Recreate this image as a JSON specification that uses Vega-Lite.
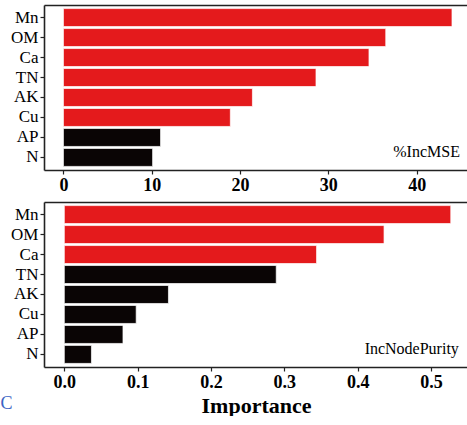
{
  "$schema": "https://vega.github.io/schema/vega-lite/v6.json",
  "padding": {"left": 0, "top": 5, "right": 0, "bottom": 0},
  "background": "white",
  "datasets": {
    "mse": [
      {"variable": "Mn", "importance": 44.0, "group": "high"},
      {"variable": "OM", "importance": 36.5, "group": "high"},
      {"variable": "Ca", "importance": 34.6, "group": "high"},
      {"variable": "TN", "importance": 28.6, "group": "high"},
      {"variable": "AK", "importance": 21.4, "group": "high"},
      {"variable": "Cu", "importance": 18.9, "group": "high"},
      {"variable": "AP", "importance": 11.0, "group": "low"},
      {"variable": "N", "importance": 10.1, "group": "low"}
    ],
    "purity": [
      {"variable": "Mn", "importance": 0.527, "group": "high"},
      {"variable": "OM", "importance": 0.436, "group": "high"},
      {"variable": "Ca", "importance": 0.344, "group": "high"},
      {"variable": "TN", "importance": 0.289, "group": "low"},
      {"variable": "AK", "importance": 0.142, "group": "low"},
      {"variable": "Cu", "importance": 0.098, "group": "low"},
      {"variable": "AP", "importance": 0.080, "group": "low"},
      {"variable": "N", "importance": 0.037, "group": "low"}
    ]
  },
  "title": {
    "text": "C",
    "orient": "bottom",
    "anchor": "start",
    "font": "Liberation Serif",
    "fontSize": 18,
    "fontWeight": "normal",
    "color": "#3b63c4",
    "dx": -10,
    "offset": -21
  },
  "config": {
    "view": {"stroke": null},
    "font": "Liberation Serif",
    "axis": {
      "grid": false,
      "domainColor": "#222222",
      "domainWidth": 1.6,
      "tickColor": "#222222",
      "tickWidth": 1.2,
      "tickSize": 4,
      "labelColor": "#000000",
      "labelFont": "Liberation Serif",
      "titleFont": "Liberation Serif",
      "titleColor": "#000000"
    },
    "axisX": {"labelFontSize": 18, "labelFontWeight": "bold", "labelPadding": 2},
    "axisY": {"labelFontSize": 17, "labelFontWeight": "normal", "labelPadding": 2}
  },
  "spacing": 8,
  "vconcat": [
    {
      "width": 423,
      "height": 165,
      "resolve": {"axis": {"x": "independent"}},
      "layer": [
        {
          "data": {"name": "mse"},
          "mark": {"type": "bar", "stroke": "white", "strokeWidth": 0.7},
          "encoding": {
            "y": {
              "field": "variable",
              "type": "nominal",
              "sort": ["Mn", "OM", "Ca", "TN", "AK", "Cu", "AP", "N"],
              "scale": {"paddingInner": 0.1, "paddingOuter": 0.18},
              "axis": {"title": null}
            },
            "x": {
              "field": "importance",
              "type": "quantitative",
              "scale": {"domain": [-2.2, 45.7], "nice": false, "zero": false},
              "axis": {"values": [0, 10, 20, 30, 40], "title": null}
            },
            "color": {
              "field": "group",
              "type": "nominal",
              "scale": {"domain": ["high", "low"], "range": ["#e41a1c", "#0a0505"]},
              "legend": null
            }
          }
        },
        {
          "data": {"values": [{"label": "%IncMSE"}]},
          "mark": {"type": "text", "align": "right", "baseline": "alphabetic", "fontSize": 16, "font": "Liberation Serif", "color": "#000000"},
          "encoding": {
            "x": {
              "datum": 44.9,
              "type": "quantitative",
              "axis": {"orient": "top", "labels": false, "ticks": false, "title": null, "domain": true}
            },
            "y": {"datum": "N", "type": "nominal"},
            "text": {"field": "label"}
          }
        }
      ]
    },
    {
      "width": 424,
      "height": 165,
      "resolve": {"axis": {"x": "independent"}},
      "layer": [
        {
          "data": {"name": "purity"},
          "mark": {"type": "bar", "stroke": "white", "strokeWidth": 0.7},
          "encoding": {
            "y": {
              "field": "variable",
              "type": "nominal",
              "sort": ["Mn", "OM", "Ca", "TN", "AK", "Cu", "AP", "N"],
              "scale": {"paddingInner": 0.1, "paddingOuter": 0.18},
              "axis": {"title": null}
            },
            "x": {
              "field": "importance",
              "type": "quantitative",
              "scale": {"domain": [-0.0277, 0.5505], "nice": false, "zero": false},
              "axis": {
                "values": [0, 0.1, 0.2, 0.3, 0.4, 0.5],
                "format": ".1f",
                "title": "Importance",
                "titleFontSize": 22,
                "titleFontWeight": "bold",
                "titlePadding": 4
              }
            },
            "color": {
              "field": "group",
              "type": "nominal",
              "scale": {"domain": ["high", "low"], "range": ["#e41a1c", "#0a0505"]},
              "legend": null
            }
          }
        },
        {
          "data": {"values": [{"label": "IncNodePurity"}]},
          "mark": {"type": "text", "align": "right", "baseline": "alphabetic", "fontSize": 16, "font": "Liberation Serif", "color": "#000000"},
          "encoding": {
            "x": {
              "datum": 0.538,
              "type": "quantitative",
              "axis": {"orient": "top", "labels": false, "ticks": false, "title": null, "domain": true}
            },
            "y": {"datum": "N", "type": "nominal"},
            "text": {"field": "label"}
          }
        }
      ]
    }
  ]
}
